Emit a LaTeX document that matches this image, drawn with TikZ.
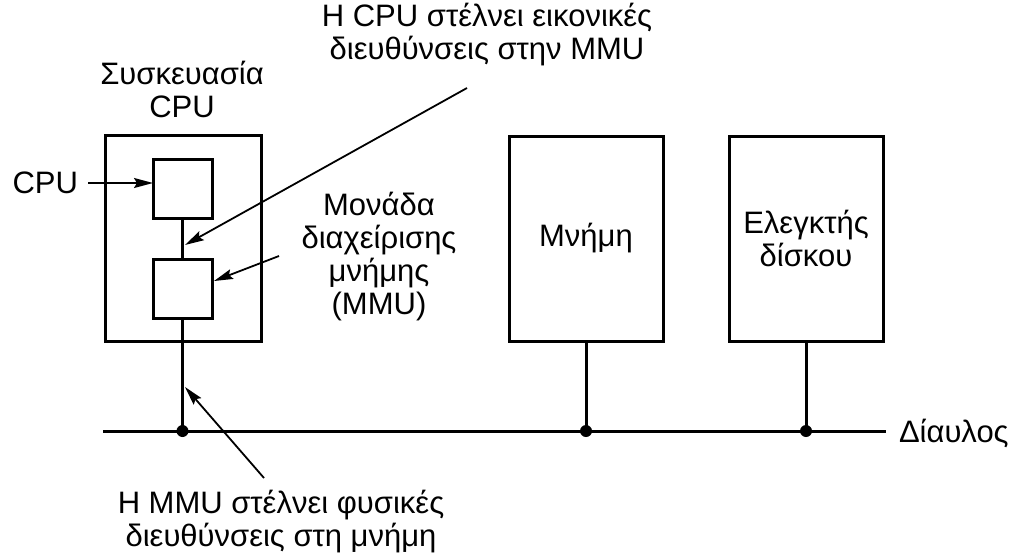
\documentclass[tikz,border=0pt]{standalone}
\usepackage{fontspec}
\setmainfont{Liberation Sans}
\usetikzlibrary{arrows.meta,calc}
\begin{document}
\begin{tikzpicture}[x=1pt,y=-1pt,
  every node/.style={font=\fontsize{31}{33}\selectfont, inner sep=0pt, outer sep=0pt},
  box/.style={draw, line width=3pt, rectangle},
  wire/.style={line width=3pt},
  ptr/.style={line width=1.8pt, -{Stealth[length=19pt,width=10pt,inset=3pt]}},
  lbl/.style={align=center},
  junction/.style={circle, fill, minimum size=12pt}]
\useasboundingbox (0,0) rectangle (1014,557);
% boxes
\node[box, minimum width=156pt, minimum height=206pt] (pkg) at (183,238) {};
\node[box, minimum width=59pt, minimum height=59pt] (cpu) at (182.5,188.5) {};
\node[box, minimum width=59pt, minimum height=59pt] (mmu) at (182.5,288.5) {};
\node[box, minimum width=154pt, minimum height=205pt, align=center] (mem) at (586,238.5) {Μνήμη};
\node[box, minimum width=154pt, minimum height=205pt, align=center] (disk) at (806,238.5) {Ελεγκτής\\δίσκου};
% bus
\coordinate (busL) at (103,431);
\coordinate (busR) at (886,431);
\node[junction] (j1) at (182.5,431) {};
\node[junction] (j2) at (586,431) {};
\node[junction] (j3) at (806,431) {};
\draw[wire] (busL) -- (busR);
\draw[wire] (cpu.south) -- (mmu.north);
\draw[wire] (mmu.south) -- (j1.center);
\draw[wire] (mem.south) -- (j2.center);
\draw[wire] (disk.south) -- (j3.center);
\node[anchor=west] (bus) at (899,433) {Δίαυλος};
% labels
\node[lbl] (lpkg) at (182,89) {Συσκευασία\\CPU};
\node[anchor=east, inner xsep=10pt] (lcpu) at (88,183) {CPU};
\node[lbl] (ltop) at (487,35) {Η CPU στέλνει εικονικές\\διευθύνσεις στην MMU};
\node[lbl] (lmmu) at (379,257) {Μονάδα\\διαχείρισης\\μνήμης\\(MMU)};
\node[lbl] (lbot) at (281,522) {Η MMU στέλνει φυσικές\\διευθύνσεις στη μνήμη};
% pointers
\coordinate (t1) at (467,88);
\coordinate (t2) at (185,245);
\coordinate (m1) at (279,256);
\coordinate (m2) at (214,281);
\coordinate (b1) at (264,478);
\coordinate (b2) at (185,387);
\draw[ptr] (lcpu.east) -- (cpu.west |- lcpu.east);
\draw[ptr] (t1) -- (t2);
\draw[ptr] (m1) -- (m2);
\draw[ptr] (b1) -- (b2);
\end{tikzpicture}
\end{document}
